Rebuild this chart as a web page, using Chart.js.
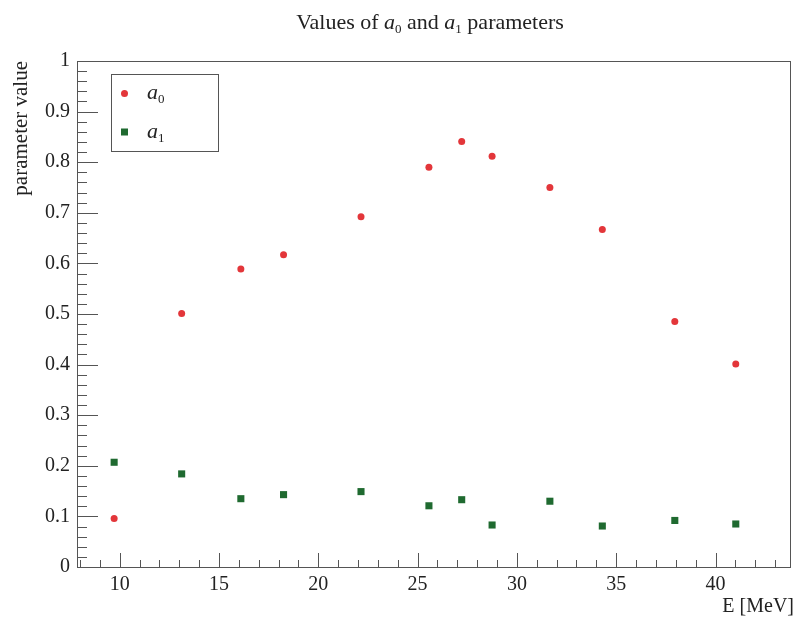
<!DOCTYPE html>
<html>
<head>
<meta charset="utf-8">
<script src="https://cdn.jsdelivr.net/npm/chart.js@4.4.1/dist/chart.umd.min.js"></script>
<style>
  html, body { margin: 0; padding: 0; background: #fff; }
  #wrap { width: 798px; height: 620px; }
</style>
</head>
<body>
<div id="wrap"><canvas id="chart"></canvas></div>
<script>
// data
const energies = [9.72, 13.12, 16.1, 18.25, 22.15, 25.57, 27.22, 28.75, 31.66, 34.3, 37.95, 41.02];
const a0Values = [0.096, 0.501, 0.589, 0.617, 0.692, 0.790, 0.841, 0.812, 0.750, 0.667, 0.485, 0.401];
const a1Values = [0.207, 0.184, 0.135, 0.143, 0.149, 0.121, 0.133, 0.083, 0.130, 0.081, 0.092, 0.085];
const xRange = [7.85, 43.75];
const yRange = [0, 1];
const titleParts = [['Values of ', 0], ['a', 1], ['0', 2], [' and ', 0], ['a', 1], ['1', 2], [' parameters', 0]];

const SERIF = '"Liberation Serif", "DejaVu Serif", serif';
const RED = '#e3363a';
const GREEN = '#1f6a30';
const AXIS = '#555';

// draw text with italic "a" and small subscripts
function richText(ctx, parts, x, y, size, align) {
  const fontOf = k => k === 1 ? `italic ${size}px ${SERIF}` : k === 2 ? `${Math.round(size * 0.6)}px ${SERIF}` : `${size}px ${SERIF}`;
  let total = 0;
  parts.forEach(p => { ctx.font = fontOf(p[1]); total += ctx.measureText(p[0]).width; });
  let cx = align === 'center' ? x - total / 2 : x;
  ctx.textAlign = 'left';
  ctx.textBaseline = 'alphabetic';
  parts.forEach(p => {
    ctx.font = fontOf(p[1]);
    ctx.fillText(p[0], cx, p[1] === 2 ? y + size * 0.2 : y);
    cx += ctx.measureText(p[0]).width;
  });
}

const rootStyle = {
  id: 'rootStyle',
  afterDraw(chart) {
    const { ctx, chartArea: a, scales: { x, y } } = chart;
    ctx.save();
    ctx.strokeStyle = AXIS;
    ctx.lineWidth = 1;
    ctx.beginPath();
    // y ticks: major every 0.1, minor every 0.02
    for (let i = 0; i <= 50; i++) {
      const py = Math.round(y.getPixelForValue(i / 50)) + 0.5;
      const len = i % 5 === 0 ? 21 : 10;
      ctx.moveTo(a.left, py);
      ctx.lineTo(a.left + len, py);
    }
    // x ticks: major every 5, minor every 1
    for (let v = Math.ceil(xRange[0]); v <= xRange[1]; v++) {
      const px = Math.round(x.getPixelForValue(v)) + 0.5;
      const len = v % 5 === 0 ? 14 : 7;
      ctx.moveTo(px, a.bottom);
      ctx.lineTo(px, a.bottom - len);
    }
    ctx.stroke();
    // frame
    ctx.strokeRect(Math.round(a.left) + 0.5, Math.round(a.top) + 0.5, Math.round(a.right - a.left), Math.round(a.bottom - a.top));

    // legend
    ctx.fillStyle = '#fff';
    ctx.fillRect(111, 74, 107, 77);
    ctx.strokeRect(111.5, 74.5, 107, 77);
    ctx.fillStyle = RED;
    ctx.beginPath();
    ctx.arc(124.5, 93.5, 3.5, 0, Math.PI * 2);
    ctx.fill();
    ctx.fillStyle = GREEN;
    ctx.fillRect(121, 128.5, 7, 7);
    ctx.fillStyle = '#222';
    richText(ctx, [['a', 1], ['0', 2]], 147, 99, 22, 'left');
    richText(ctx, [['a', 1], ['1', 2]], 147, 138, 22, 'left');

    // title
    richText(ctx, titleParts, 430, 29, 22, 'center');

    // axis titles
    ctx.font = `20px ${SERIF}`;
    ctx.textAlign = 'right';
    ctx.textBaseline = 'alphabetic';
    ctx.fillText('E [MeV]', 794, 612);
    ctx.font = `21px ${SERIF}`;
    ctx.translate(27, 61);
    ctx.rotate(-Math.PI / 2);
    ctx.fillText('parameter value', 0, 0);
    ctx.restore();
  }
};

new Chart(document.getElementById('chart'), {
  type: 'scatter',
  data: {
    datasets: [{
      label: 'a0',
      data: energies.map((e, i) => ({ x: e, y: a0Values[i] })),
      pointStyle: 'circle',
      pointRadius: 3.5,
      pointHoverRadius: 3.5,
      backgroundColor: RED,
      borderWidth: 0
    }, {
      label: 'a1',
      data: energies.map((e, i) => ({ x: e, y: a1Values[i] })),
      pointStyle: 'rect',
      pointRadius: 5,
      pointHoverRadius: 5,
      backgroundColor: GREEN,
      borderWidth: 0
    }]
  },
  options: {
    responsive: true,
    maintainAspectRatio: false,
    animation: false,
    layout: { padding: { top: 61, right: 8, left: 0, bottom: 0 } },
    plugins: { legend: { display: false }, tooltip: { enabled: false } },
    scales: {
      x: {
        type: 'linear',
        min: xRange[0],
        max: xRange[1],
        grid: { display: false, drawTicks: false },
        border: { display: false },
        afterFit: s => { s.height = 53; },
        ticks: {
          stepSize: 5,
          includeBounds: false,
          padding: 6,
          color: '#222',
          font: { family: SERIF, size: 20 },
          maxRotation: 0
        }
      },
      y: {
        min: yRange[0],
        max: yRange[1],
        grid: { display: false, drawTicks: false },
        border: { display: false },
        afterFit: s => { s.width = 77; },
        ticks: {
          stepSize: 0.1,
          padding: 7,
          color: '#222',
          font: { family: SERIF, size: 20 },
          callback: v => String(+v.toFixed(1))
        }
      }
    }
  },
  plugins: [rootStyle]
});
</script>
</body>
</html>
